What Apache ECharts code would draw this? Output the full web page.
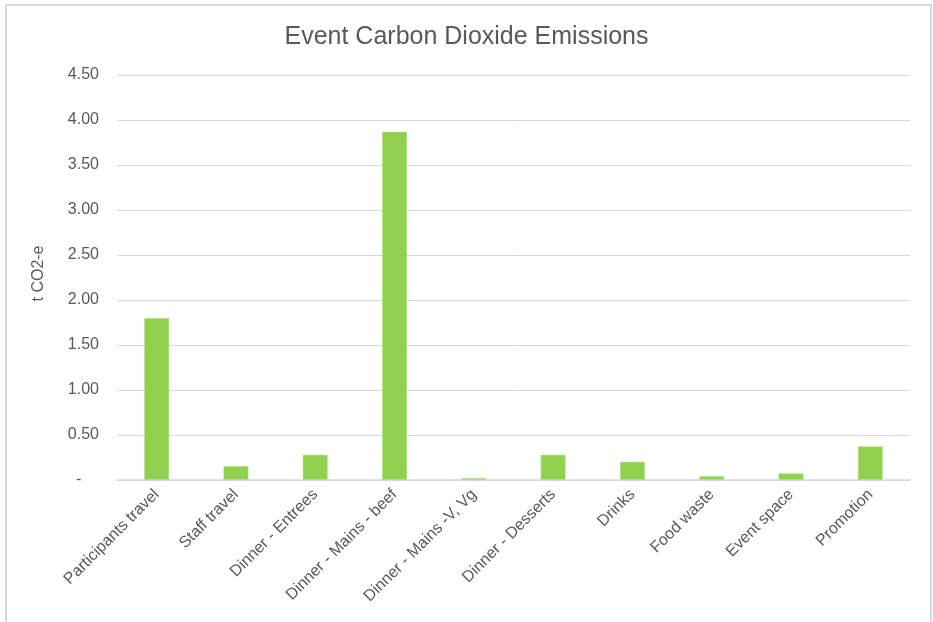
<!DOCTYPE html>
<html>
<head>
<meta charset="utf-8">
<script src="https://cdn.jsdelivr.net/npm/echarts@6/dist/echarts.min.js"></script>
<style>
    html, body { margin: 0; padding: 0; background: #fff; }
    #frame {
        position: absolute; left: 5px; top: 4px; width: 927px; height: 640px;
        border: 2px solid #d9d9d9; box-sizing: border-box;
    }
    #chart { position: absolute; left: 0; top: 0; width: 933px; height: 622px; }
</style>
</head>
<body>
<div id="frame"></div>
<div id="chart"></div>
<script>
    var categories = ['Participants travel', 'Staff travel', 'Dinner - Entrees', 'Dinner - Mains - beef',
        'Dinner - Mains -V, Vg', 'Dinner - Desserts', 'Drinks', 'Food waste', 'Event space', 'Promotion'];
    var emissions = [1.80, 0.155, 0.28, 3.87, 0.022, 0.28, 0.203, 0.044, 0.074, 0.374];

    var chart = echarts.init(document.getElementById('chart'));
    var labelFont = 'Liberation Sans, sans-serif';
    chart.setOption({
        animation: false,
        title: {
            text: 'Event Carbon Dioxide Emissions',
            left: 'center',
            top: 20,
            textStyle: { fontFamily: labelFont, fontSize: 25, fontWeight: 'normal', color: '#595959' }
        },
        grid: { left: 117, right: 23, top: 75, bottom: 142 },
        xAxis: {
            type: 'category',
            data: categories,
            axisLine: { lineStyle: { color: '#d9d9d9', width: 1.5 } },
            axisTick: { show: false },
            axisLabel: {
                rotate: 45, interval: 0, margin: 12,
                fontFamily: labelFont, fontSize: 16, color: '#595959'
            }
        },
        yAxis: {
            type: 'value',
            min: 0, max: 4.5, interval: 0.5,
            name: 't CO2-e',
            nameLocation: 'middle',
            nameGap: 70,
            nameTextStyle: { fontFamily: labelFont, fontSize: 16, color: '#595959', padding: [0, 0, 0, 8] },
            axisLine: { show: false },
            axisTick: { show: false },
            splitLine: { lineStyle: { color: '#d9d9d9', width: 1 } },
            axisLabel: {
                margin: 18,
                fontFamily: labelFont, fontSize: 16, color: '#595959',
                // excel accounting style: zero shown as a dash
                formatter: function (v) { return v === 0 ? '-    ' : v.toFixed(2); }
            }
        },
        series: [{
            type: 'bar',
            data: emissions,
            barWidth: 25,
            itemStyle: { color: '#92d050', borderColor: '#c6eba0', borderWidth: 0.5 }
        }]
    });
</script>
</body>
</html>
